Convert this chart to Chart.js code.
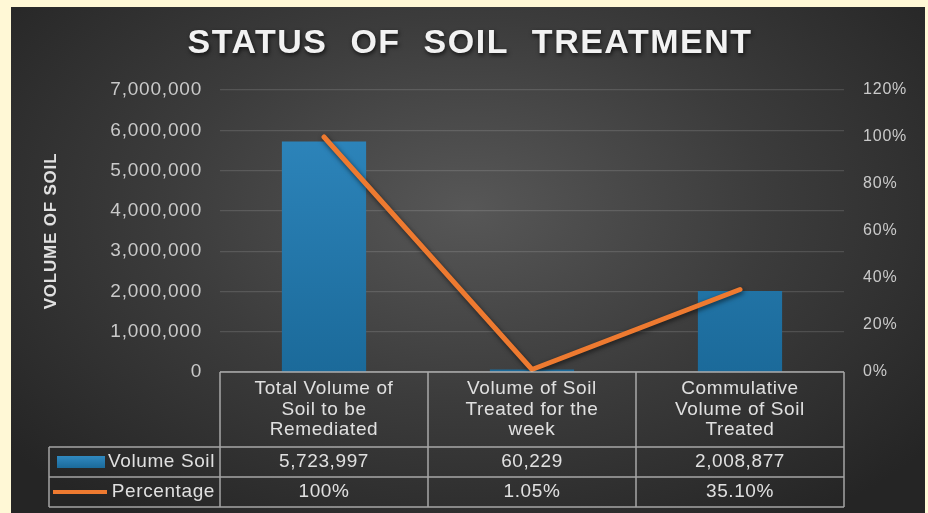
<!DOCTYPE html>
<html>
<head>
<meta charset="utf-8">
<title>Status of Soil Treatment</title>
<script src="https://cdn.jsdelivr.net/npm/chart.js@4.4.0/dist/chart.umd.min.js"></script>
<style>
    html, body { margin: 0; padding: 0; }
    body { width: 928px; height: 513px; background: #fff8d6; position: relative; overflow: hidden; }
    #frame {
        position: absolute; left: 11px; top: 7px; width: 914px; height: 506px;
        background: radial-gradient(ellipse 65% 75% at 50% 40%, #575757 0%, #3c3c3c 50%, #252525 100%);
    }
    canvas { display: block; }
</style>
</head>
<body>
<div id="frame"><canvas id="soilChart" width="914" height="506"></canvas></div>
<script>
// Chart text
const TITLE = 'STATUS OF SOIL TREATMENT';
const Y_TITLE = 'VOLUME OF SOIL';

// Categories (multi-line, as shown in the data table)
const categories = [
    ['Total Volume of', 'Soil to be', 'Remediated'],
    ['Volume of Soil', 'Treated for the', 'week'],
    ['Commulative', 'Volume of Soil', 'Treated']
];

// Series
const seriesNames = ['Volume Soil', 'Percentage'];
const volumeSoil = [5723997, 60229, 2008877];
const percentage = [100, 1.05, 35.10];
const percentageLabels = ['100%', '1.05%', '35.10%'];

// Axis ticks
const volumeTicks = [0, 1000000, 2000000, 3000000, 4000000, 5000000, 6000000, 7000000];
const percentTicks = [0, 20, 40, 60, 80, 100, 120];

// Colours
const BAR_TOP = '#3089c0';
const BAR_BOTTOM = '#1b6a9a';
const LINE_COLOR = '#ee7a30';
const TEXT_COLOR = '#e0e0e0';
const TICK_COLOR = '#cacaca';
const TABLE_LINE = 'rgba(205, 205, 205, 0.75)';

Chart.defaults.font.family = "'Liberation Sans', Arial, sans-serif";

function barGradient(context) {
    const area = context.chart.chartArea;
    if (!area) return BAR_TOP;
    const g = context.chart.ctx.createLinearGradient(0, area.top, 0, area.bottom);
    g.addColorStop(0, BAR_TOP);
    g.addColorStop(1, BAR_BOTTOM);
    return g;
}

// Slightly wider axis text, like the original picture
const textSpacing = {
    id: 'textSpacing',
    beforeDraw(chart) {
        if ('letterSpacing' in chart.ctx) chart.ctx.letterSpacing = '0.8px';
    },
    afterDatasetsDraw(chart) {
        if ('letterSpacing' in chart.ctx) chart.ctx.letterSpacing = '0px';
    }
};

// Title drawn by hand so the word spacing can match
const titlePlugin = {
    id: 'bigTitle',
    afterDraw(chart) {
        const ctx = chart.ctx;
        ctx.save();
        ctx.font = "bold 34px 'Liberation Sans', Arial, sans-serif";
        ctx.fillStyle = '#f2f2f2';
        ctx.textAlign = 'center';
        ctx.textBaseline = 'middle';
        if ('letterSpacing' in ctx) ctx.letterSpacing = '1.5px';
        if ('wordSpacing' in ctx) ctx.wordSpacing = '12px';
        ctx.shadowColor = 'rgba(0, 0, 0, 0.7)';
        ctx.shadowBlur = 4;
        ctx.shadowOffsetX = 1;
        ctx.shadowOffsetY = 2;
        ctx.fillText(TITLE, chart.width / 2 + 2, 37);
        ctx.restore();
    }
};

// Shadow under the percentage line
const lineShadow = {
    id: 'lineShadow',
    beforeDatasetDraw(chart, args) {
        if (args.meta.type !== 'line') return;
        const ctx = chart.ctx;
        ctx.save();
        ctx.shadowColor = 'rgba(0, 0, 0, 0.6)';
        ctx.shadowBlur = 5;
        ctx.shadowOffsetX = 1;
        ctx.shadowOffsetY = 2;
    },
    afterDatasetDraw(chart, args) {
        if (args.meta.type !== 'line') return;
        chart.ctx.restore();
    }
};

// Data table under the plot area
const dataTable = {
    id: 'dataTable',
    afterDraw(chart) {
        const ctx = chart.ctx;
        const area = chart.chartArea;
        const x = chart.scales.x;
        const n = chart.data.labels.length;
        const colW = (area.right - area.left) / n;
        const headTop = area.bottom;
        const headBottom = headTop + 75;
        const rowH = 30;
        const tableLeft = 38;
        const fontSize = 19;

        ctx.save();
        ctx.strokeStyle = TABLE_LINE;
        ctx.lineWidth = 1.5;
        ctx.beginPath();
        // header box
        ctx.moveTo(area.left, headTop); ctx.lineTo(area.right, headTop);
        for (let i = 0; i <= n; i++) {
            const cx = area.left + i * colW;
            ctx.moveTo(cx, headTop); ctx.lineTo(cx, headBottom + 2 * rowH);
        }
        // rows
        for (let r = 0; r <= 2; r++) {
            const y = headBottom + r * rowH;
            ctx.moveTo(tableLeft, y); ctx.lineTo(area.right, y);
        }
        ctx.moveTo(tableLeft, headBottom); ctx.lineTo(tableLeft, headBottom + 2 * rowH);
        ctx.stroke();

        ctx.fillStyle = TEXT_COLOR;
        ctx.font = fontSize + "px 'Liberation Sans', Arial, sans-serif";
        if ('letterSpacing' in ctx) ctx.letterSpacing = '0.6px';
        ctx.textAlign = 'center';
        ctx.textBaseline = 'middle';

        // category headers
        chart.data.labels.forEach((lines, i) => {
            const cx = x.getPixelForValue(i);
            const midY = (headTop + headBottom) / 2;
            lines.forEach((line, k) => {
                ctx.fillText(line, cx, midY + (k - (lines.length - 1) / 2) * 20.5);
            });
        });

        // value rows
        const rows = [
            volumeSoil.map(v => v.toLocaleString('en-US')),
            percentageLabels
        ];
        rows.forEach((vals, r) => {
            const cy = headBottom + r * rowH + rowH / 2;
            vals.forEach((v, i) => ctx.fillText(v, x.getPixelForValue(i), cy));
        });

        // legend keys and names
        ctx.textAlign = 'right';
        seriesNames.forEach((name, r) => {
            const cy = headBottom + r * rowH + rowH / 2;
            ctx.fillText(name, area.left - 5, cy);
        });
        const y1 = headBottom + rowH / 2;
        const g = ctx.createLinearGradient(0, y1 - 6, 0, y1 + 6);
        g.addColorStop(0, BAR_TOP);
        g.addColorStop(1, BAR_BOTTOM);
        ctx.fillStyle = g;
        ctx.fillRect(46, y1 - 6, 48, 12);

        const y2 = headBottom + rowH + rowH / 2;
        ctx.strokeStyle = LINE_COLOR;
        ctx.lineWidth = 4;
        ctx.beginPath();
        ctx.moveTo(42, y2); ctx.lineTo(96, y2);
        ctx.stroke();
        ctx.restore();
    }
};

const chart = new Chart(document.getElementById('soilChart').getContext('2d'), {
    data: {
        labels: categories,
        datasets: [
            {
                type: 'bar',
                label: seriesNames[0],
                data: volumeSoil,
                yAxisID: 'y',
                backgroundColor: barGradient,
                borderWidth: 0,
                barPercentage: 0.405,
                categoryPercentage: 1,
                order: 2
            },
            {
                type: 'line',
                label: seriesNames[1],
                data: percentage,
                yAxisID: 'y1',
                borderColor: LINE_COLOR,
                borderWidth: 5,
                borderCapStyle: 'round',
                borderJoinStyle: 'round',
                pointRadius: 0,
                tension: 0,
                fill: false,
                order: 1
            }
        ]
    },
    options: {
        responsive: false,
        animation: false,
        devicePixelRatio: 1,
        layout: {
            padding: { top: 83, bottom: 141, left: 0, right: 0 }
        },
        plugins: {
            legend: { display: false },
            tooltip: { enabled: false },
            title: { display: false }
        },
        scales: {
            x: {
                display: false,
                offset: true
            },
            y: {
                position: 'left',
                min: 0,
                max: 7000000,
                afterBuildTicks: scale => { scale.ticks = volumeTicks.map(v => ({ value: v })); },
                afterFit: scale => { scale.width = 209; },
                grid: {
                    color: 'rgba(255, 255, 255, 0.13)',
                    lineWidth: 1.2,
                    drawTicks: false
                },
                border: { display: false },
                ticks: {
                    padding: 18,
                    color: TICK_COLOR,
                    font: { size: 19 },
                    callback: v => Number(v).toLocaleString('en-US')
                },
                title: {
                    display: true,
                    text: Y_TITLE,
                    color: TEXT_COLOR,
                    font: { size: 17, weight: 'bold' },
                    padding: { top: 30, bottom: 4 }
                }
            },
            y1: {
                position: 'right',
                min: 0,
                max: 120,
                afterBuildTicks: scale => { scale.ticks = percentTicks.map(v => ({ value: v })); },
                afterFit: scale => { scale.width = 81; },
                grid: { display: false, drawTicks: false },
                border: { display: false },
                ticks: {
                    padding: 19,
                    color: TICK_COLOR,
                    font: { size: 16 },
                    callback: v => v + '%'
                }
            }
        }
    },
    plugins: [textSpacing, lineShadow, dataTable, titlePlugin]
});
</script>
</body>
</html>
